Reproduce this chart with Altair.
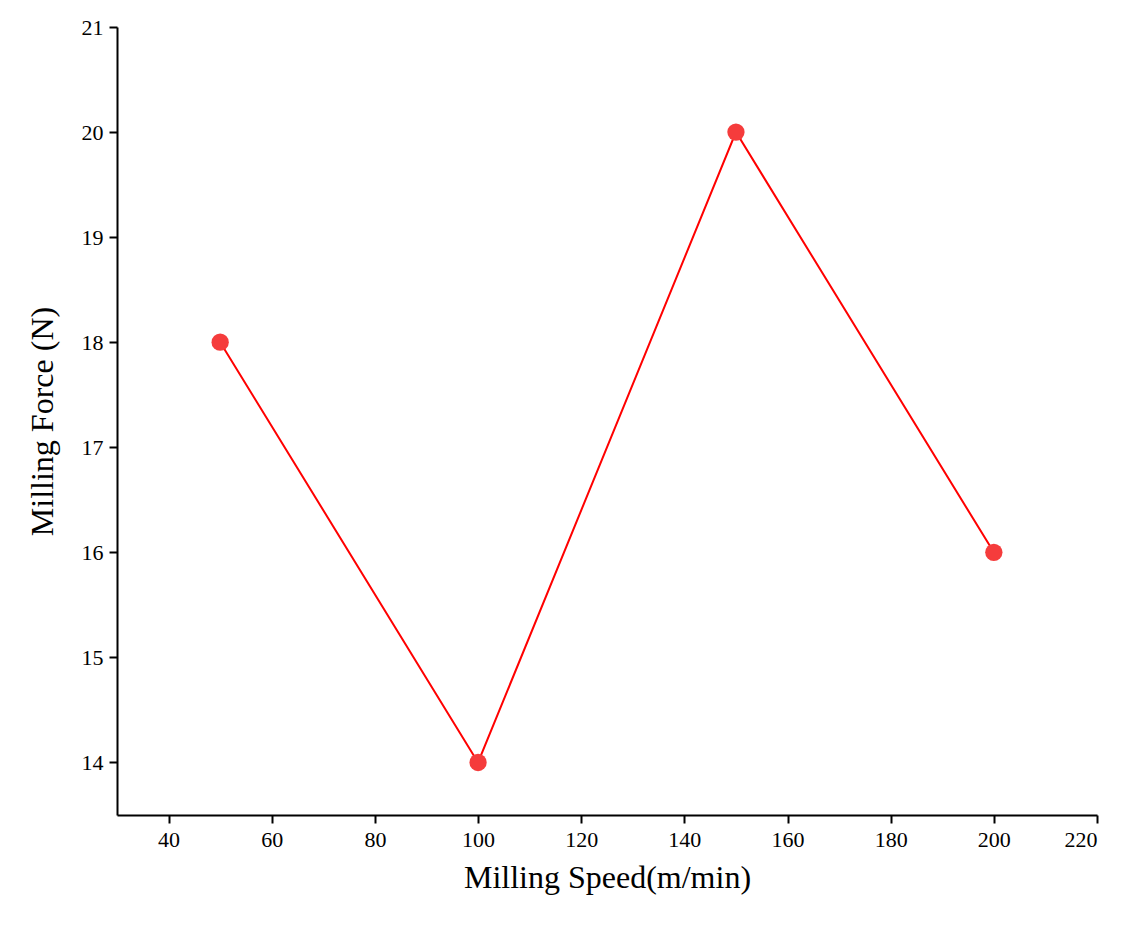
import altair as alt
import pandas as pd

speed = [50, 100, 150, 200]
force = [18, 14, 20, 16]

df = pd.DataFrame({"speed": speed, "force": force})

x = alt.X("speed:Q", scale=alt.Scale(domain=[30, 220], nice=False, zero=False),
          axis=alt.Axis(values=list(range(40, 221, 20)), title="Milling Speed(m/min)",
                        titleFontSize=32, titlePadding=12))
y = alt.Y("force:Q", scale=alt.Scale(domain=[13.5, 21], nice=False, zero=False),
          axis=alt.Axis(values=list(range(14, 22)), title="Milling Force (N)",
                        titleFontSize=32, titlePadding=22))

line = alt.Chart(df).mark_line(color="#ff0000", strokeWidth=2).encode(x=x, y=y)
pts = alt.Chart(df).mark_circle(color="#f53c3c", opacity=1, size=300).encode(x=x, y=y)

chart = (line + pts).properties(
    width=980, height=788,
    autosize=alt.AutoSizeParams(type="none"),
    padding={"left": 109, "top": 19, "right": 30, "bottom": 120},
).configure_view(stroke=None).configure_axis(
    grid=False, domainColor="black", domainWidth=2, tickColor="black", tickWidth=2,
    tickSize=8, labelFont="Liberation Serif", titleFont="Liberation Serif",
    labelFontSize=22, labelColor="black", titleColor="black", titleFontWeight="normal",
    labelPadding=6,
)

chart.save("out.html", embed_options={"renderer": "svg", "actions": False})
